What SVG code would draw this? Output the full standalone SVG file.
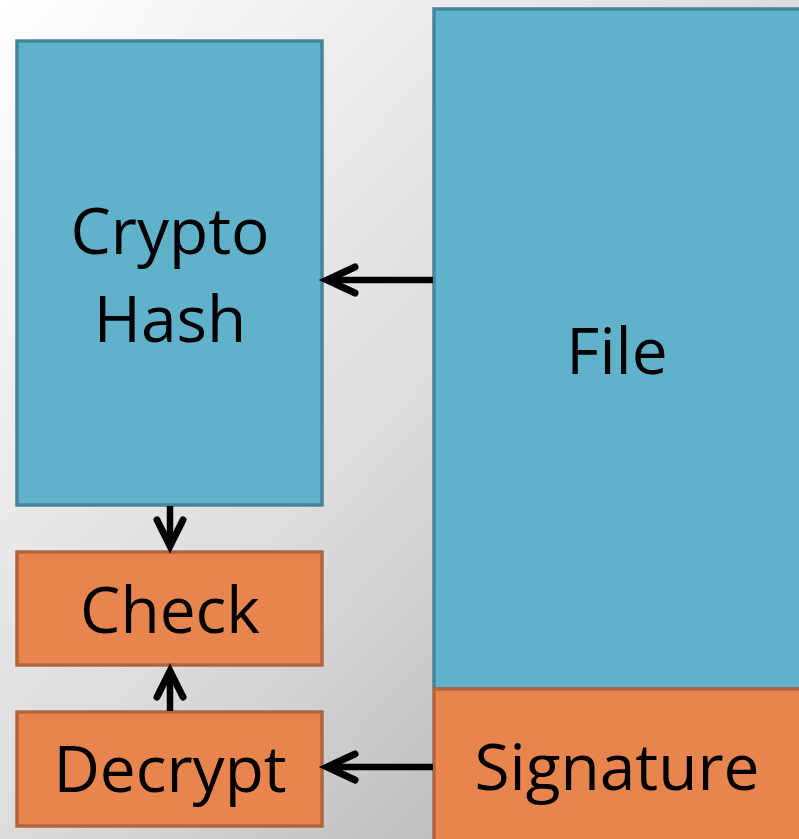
<svg xmlns="http://www.w3.org/2000/svg" width="799" height="839" viewBox="0 0 799 839">
  <defs>
    <linearGradient id="bg" x1="0" y1="0" x2="1" y2="1">
      <stop offset="0" stop-color="#ffffff"/>
      <stop offset="0.5" stop-color="#dcdcdc"/>
      <stop offset="1" stop-color="#a8a8a8"/>
    </linearGradient>
    <style>
      .blue { fill: #60b2cb; stroke: #46849a; stroke-width: 3.5; }
      .orange { fill: #e8854f; stroke: #b2653d; stroke-width: 3.5; }
      .label { font-family: "Open Sans", "Noto Sans", "Liberation Sans", sans-serif; font-size: 64px; fill: #000; text-anchor: middle; }
      .wire { stroke: #000; stroke-width: 6.5; fill: none; }
      .tip { stroke: #000; stroke-width: 7; fill: none; stroke-linecap: round; stroke-linejoin: miter; }
    </style>
  </defs>

  <rect x="0" y="0" width="799" height="839" fill="url(#bg)"/>

  <g id="crypto-hash">
    <rect class="blue" x="17" y="41" width="305" height="464"/>
    <text class="label" x="170" y="254">Crypto</text>
    <text class="label" x="170" y="342">Hash</text>
  </g>

  <g id="check">
    <rect class="orange" x="17" y="552" width="305" height="113"/>
    <text class="label" x="170" y="633">Check</text>
  </g>

  <g id="decrypt">
    <rect class="orange" x="17" y="712" width="305" height="114"/>
    <text class="label" x="170" y="792">Decrypt</text>
  </g>

  <g id="file">
    <rect class="blue" x="434" y="9" width="380" height="680"/>
    <text class="label" x="617" y="374">File</text>
  </g>

  <g id="signature">
    <rect class="orange" x="434" y="689" width="380" height="170"/>
    <text class="label" x="617" y="790">Signature</text>
  </g>

  <g id="connectors">
    <!-- File to Crypto Hash -->
    <line class="wire" x1="433" y1="280" x2="328" y2="280"/>
    <path class="tip" d="M355,267 L327,280 L355,293"/>
    <!-- Crypto Hash to Check -->
    <line class="wire" x1="170" y1="506" x2="170" y2="545"/>
    <path class="tip" d="M157,520 L170,546 L183,520"/>
    <!-- Decrypt to Check -->
    <line class="wire" x1="170" y1="711" x2="170" y2="672"/>
    <path class="tip" d="M157,697 L170,671 L183,697"/>
    <!-- Signature to Decrypt -->
    <line class="wire" x1="433" y1="767" x2="328" y2="767"/>
    <path class="tip" d="M355,754 L327,767 L355,780"/>
  </g>
</svg>
